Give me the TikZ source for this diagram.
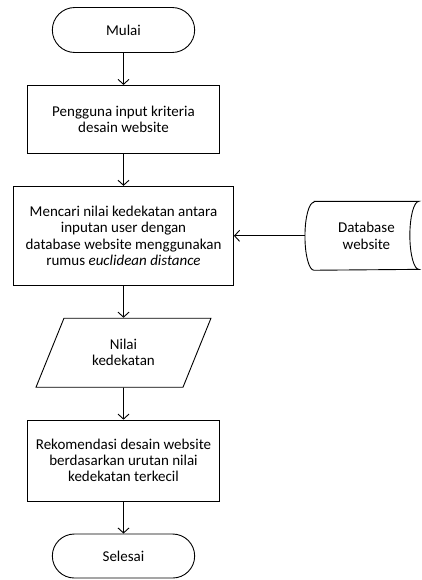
\documentclass[tikz,border=0pt]{standalone}
\usepackage{fontspec}
\setmainfont{Carlito}
\usetikzlibrary{positioning,shapes.geometric,shapes.misc,arrows.meta}
\tikzset{
  proc/.style = {draw, rectangle, align=center, inner sep=2pt},
  term/.style = {draw, rounded rectangle, minimum width=149pt, minimum height=45pt},
  io/.style = {draw, trapezium, trapezium left angle=64, trapezium right angle=116,
    trapezium stretches=true, minimum width=175pt, minimum height=69pt, align=center},
  store/.style = {align=center, minimum width=104pt, minimum height=68pt}
}
\begin{document}
\begin{tikzpicture}[x=1pt, y=1pt, node distance=32pt, line width=0.9pt,
    >={Straight Barb[length=5pt,width=11pt]}, font=\fontsize{15}{16.2}\selectfont]
   \useasboundingbox (0,0) rectangle (422,-580);
   \node[term] (Start) at (123.5,-30) {Mulai};
   \node[proc, minimum width=192pt, minimum height=68pt, below=of Start] (Input) {Pengguna input kriteria\\desain website};
   \node[proc, minimum width=220pt, minimum height=99pt, below=of Input] (Search) {Mencari nilai kedekatan antara\\inputan user dengan\\database website menggunakan\\rumus \textit{euclidean distance}};
   \node[store, right=80pt of Search] (DB) {Database\\website};
   \node[io, below=of Search] (Value) {Nilai\\kedekatan};
   \node[proc, minimum width=192pt, minimum height=81pt, below=of Value] (Rec) {Rekomendasi desain website\\berdasarkan urutan nilai\\kedekatan terkecil};
   \node[term, minimum height=44pt, below=of Rec] (End) {Selesai};
   \draw (DB.north west) -- (DB.north east)
      arc[start angle=90, end angle=270, x radius=9pt, y radius=34pt]
      -- (DB.south west)
      arc[start angle=270, end angle=90, x radius=9pt, y radius=34pt] -- cycle;
   \draw[->] (Start) to (Input);
   \draw[->] (Input) to (Search);
   \draw[->, shorten <=9pt] (DB) to (Search);
   \draw[->] (Search) to (Value);
   \draw[->] (Value) to (Rec);
   \draw[->] (Rec) to (End);
\end{tikzpicture}
\end{document}
